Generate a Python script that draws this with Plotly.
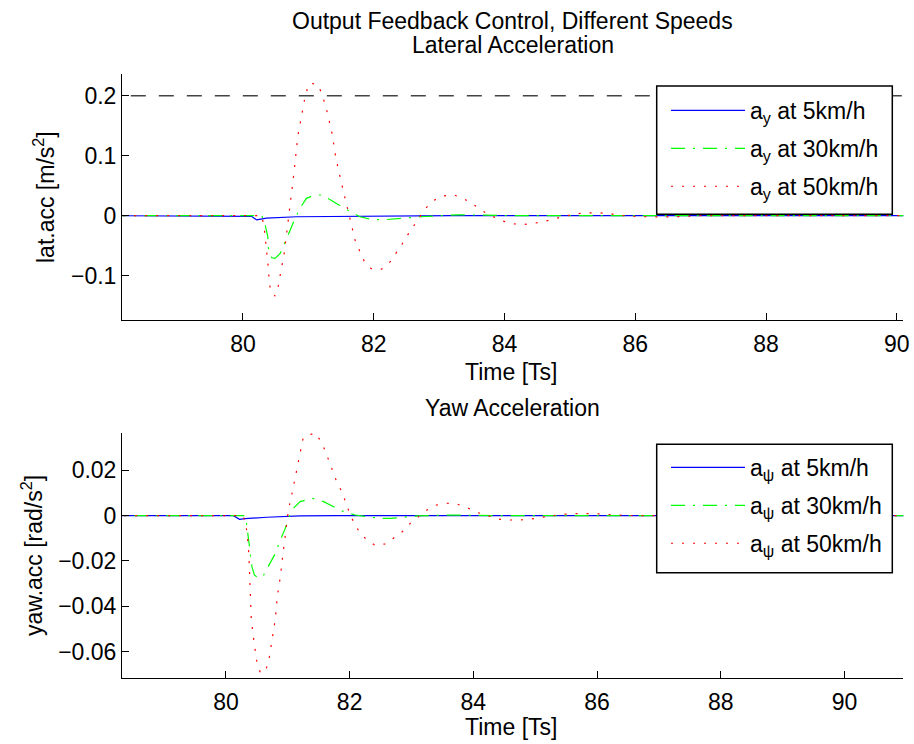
import plotly.graph_objects as go

# ---------------- data: lateral acceleration (top) ----------------
t_lat_5 = [78.0, 80.10, 80.13, 80.21, 80.36, 80.82, 81.5, 82.5, 83.2, 91.0]
lat_5 = [0.0, 0.0, -0.001, -0.007, -0.004, -0.0017, -0.001, -0.0005, 0.0, 0.0]

t_lat_30 = [78.0, 80.29, 80.34, 80.38, 80.39, 80.44, 80.49, 80.57, 80.64, 80.72, 80.80,
            80.87, 80.97, 81.10, 81.20, 81.30, 81.46, 81.64, 81.79, 81.94, 82.12, 82.35,
            82.55, 82.71, 83.0, 83.3, 83.7, 84.2, 91.0]
lat_30 = [0.0, 0.0, -0.0155, -0.035, -0.054, -0.070, -0.071, -0.063, -0.045, -0.024, -0.004,
          0.012, 0.029, 0.0345, 0.0345, 0.029, 0.018, 0.0067, -0.0017, -0.0055, -0.007, -0.0055,
          -0.0033, -0.0017, 0.0, 0.0015, 0.001, 0.0, 0.0]

t_lat_50 = [78.0, 80.29, 80.33, 80.36, 80.38, 80.39, 80.40, 80.42, 80.49, 80.54, 80.57, 80.60,
            80.63, 80.67, 80.70, 80.73, 80.77, 80.81, 80.84, 80.90, 80.96, 81.02, 81.14, 81.21,
            81.25, 81.30, 81.37, 81.42, 81.49, 81.57, 81.64, 81.72, 81.79, 81.86, 81.97, 82.12,
            82.25, 82.34, 82.43, 82.52, 82.61, 82.71, 82.79, 82.91, 83.05, 83.23, 83.37, 83.52,
            83.68, 83.80, 83.95, 84.11, 84.26, 84.43, 84.59, 84.75, 84.90, 85.08, 85.25, 85.41,
            85.58, 85.74, 85.89, 86.23, 86.56, 87.0, 91.0]
lat_50 = [0.0, 0.0, -0.025, -0.052, -0.071, -0.089, -0.107, -0.124, -0.134, -0.117, -0.099, -0.081,
          -0.063, -0.028, 0.004, 0.026, 0.062, 0.097, 0.133, 0.169, 0.204, 0.221, 0.219, 0.203,
          0.186, 0.168, 0.133, 0.097, 0.062, 0.026, -0.009, -0.043, -0.060, -0.077, -0.089, -0.089,
          -0.077, -0.063, -0.048, -0.032, -0.017, -0.002, 0.012, 0.025, 0.033, 0.0345, 0.029, 0.019,
          0.007, 0.0, -0.008, -0.013, -0.015, -0.013, -0.010, -0.0055, -0.0017, 0.003, 0.0045, 0.005,
          0.004, 0.001, -0.0005, -0.002, -0.002, 0.0, 0.0]

lat_limit = 0.2

# ---------------- data: yaw acceleration (bottom) ----------------
t_yaw_5 = [78.0, 80.12, 80.22, 80.31, 80.66, 81.2, 81.8, 91.0]
yaw_5 = [0.0, 0.0, -0.0016, -0.0013, -0.0007, -0.0001, 0.0, 0.0]

t_yaw_30 = [78.0, 80.30, 80.32, 80.37, 80.39, 80.42, 80.46, 80.53, 80.61, 80.72, 80.80, 80.88,
            80.96, 81.01, 81.09, 81.20, 81.39, 81.58, 81.74, 81.90, 82.09, 82.28, 82.49, 82.66,
            82.87, 83.09, 83.7, 84.3, 91.0]
yaw_30 = [0.0, 0.0, -0.0004, -0.0122, -0.0174, -0.0225, -0.0262, -0.0277, -0.0262, -0.021, -0.0166,
          -0.0107, -0.0056, -0.0012, 0.0033, 0.0062, 0.0077, 0.0062, 0.004, 0.0018, 0.0003, -0.0004,
          -0.0012, -0.0012, -0.0007, -0.0001, 0.0003, 0.0, 0.0]

t_yaw_50 = [78.0, 80.28, 80.31, 80.34, 80.37, 80.39, 80.41, 80.45, 80.50, 80.555, 80.635, 80.69,
            80.72, 80.74, 80.77, 80.80, 80.83, 80.88, 80.92, 80.96, 81.01, 81.08, 81.15, 81.19,
            81.25, 81.44, 81.54, 81.61, 81.67, 81.74, 81.79, 81.875, 81.93, 81.99, 82.06, 82.17,
            82.27, 82.40, 82.58, 82.71, 82.85, 82.98, 83.11, 83.25, 83.40, 83.57, 83.73, 83.92,
            84.08, 84.25, 84.41, 84.57, 84.76, 84.92, 85.08, 85.27, 85.43, 85.62, 85.78, 85.97,
            86.13, 86.32, 86.6, 91.0]
yaw_50 = [0.0, 0.0, -0.0029, -0.0071, -0.0166, -0.0362, -0.046, -0.0549, -0.0645, -0.0693, -0.0689,
          -0.0645, -0.0593, -0.0549, -0.0505, -0.0453, -0.0357, -0.0269, -0.0174, -0.0078, 0.0025,
          0.0113, 0.0209, 0.0253, 0.0346, 0.0366, 0.0327, 0.0283, 0.0238, 0.0194, 0.015, 0.0106,
          0.0062, 0.0018, -0.0026, -0.0078, -0.0104, -0.0129, -0.0125, -0.010, -0.0071, -0.0034,
          -0.0004, 0.0025, 0.0047, 0.0055, 0.0052, 0.0033, 0.0013, -0.0001, -0.0015, -0.0019,
          -0.0019, -0.0015, -0.0009, -0.0001, 0.0006, 0.0009, 0.001, 0.0009, 0.0006, 0.0003, 0.0, 0.0]

speeds = ["5km/h", "30km/h", "50km/h"]
lat_x_ticks = [80, 82, 84, 86, 88, 90]
lat_y_ticks = [0.2, 0.1, 0, -0.1]
yaw_y_ticks = [0.02, 0, -0.02, -0.04, -0.06]

# ---------------- styling ----------------
W, H = 914, 744
FONT = "Liberation Sans, Arial, Helvetica, sans-serif"
FS = 23
styles = [
    dict(color="#0000FF", width=1.2, dash="solid"),
    dict(color="#00FF00", width=1.2, dash="14px,8px,2px,8px"),
    dict(color="#FF0000", width=1.2, dash="2px,9px"),
]


def px_x(p):
    return p / W


def px_y(p):
    return 1 - p / H


fig = go.Figure()

lat_series = [(t_lat_5, lat_5), (t_lat_30, lat_30), (t_lat_50, lat_50)]
yaw_series = [(t_yaw_5, yaw_5), (t_yaw_30, yaw_30), (t_yaw_50, yaw_50)]

for i, ((tx, ty), sp, st) in enumerate(zip(lat_series, speeds, styles)):
    fig.add_trace(go.Scatter(x=tx, y=ty, mode="lines", line=st,
                             name=f"a<sub>y</sub> at {sp}", xaxis="x", yaxis="y",
                             legend="legend", legendgroup=f"lat{i}"))
fig.add_trace(go.Scatter(x=[77.0, 92.0], y=[lat_limit, lat_limit], mode="lines",
                         line=dict(color="#444444", width=1.5, dash="15px,13px"),
                         showlegend=False, xaxis="x", yaxis="y"))

for i, ((tx, ty), sp, st) in enumerate(zip(yaw_series, speeds, styles)):
    fig.add_trace(go.Scatter(x=tx, y=ty, mode="lines", line=st,
                             name=f"a<sub>ψ</sub> at {sp}", xaxis="x2", yaxis="y2",
                             legend="legend2", legendgroup=f"yaw{i}"))

axis_common = dict(showline=True, linecolor="black", linewidth=1, ticks="inside",
                   ticklen=7, tickcolor="black", tickwidth=1, showgrid=False, zeroline=False,
                   mirror=False, tickfont=dict(family=FONT, size=FS, color="black"),
                   automargin=False)

legend_common = dict(bgcolor="rgba(0,0,0,0)", borderwidth=0,
                     font=dict(family=FONT, size=FS, color="black"),
                     xanchor="left", yanchor="top", itemwidth=74, tracegroupgap=5,
                     traceorder="grouped")

fig.update_layout(
    width=W, height=H,
    margin=dict(l=0, r=0, t=0, b=0),
    paper_bgcolor="white", plot_bgcolor="white",
    font=dict(family=FONT, size=FS, color="black"),
    xaxis=dict(domain=[px_x(122), px_x(903.3)], range=[78.15, 90.1],
               tickvals=lat_x_ticks, anchor="y", ticklabelstandoff=3, **axis_common),
    yaxis=dict(domain=[px_y(320), px_y(74.3)], range=[-0.1738, 0.2357],
               tickvals=lat_y_ticks, anchor="x", **axis_common),
    xaxis2=dict(domain=[px_x(122), px_x(903.3)], range=[78.32, 90.95],
                tickvals=lat_x_ticks, anchor="y2", ticklabelstandoff=3, **axis_common),
    yaxis2=dict(domain=[px_y(678.3), px_y(432.7)], range=[-0.0718, 0.03664],
                tickvals=yaw_y_ticks, anchor="x2", **axis_common),
    legend=dict(x=px_x(666), y=px_y(89), **legend_common),
    legend2=dict(x=px_x(666), y=px_y(446), **legend_common),
    showlegend=True,
)

# legend boxes (white, black border) drawn above the data
for y0, y1 in [(86, 214.3), (444.3, 572.7)]:
    fig.add_shape(type="rect", xref="paper", yref="paper", layer="above",
                  x0=px_x(656.7), x1=px_x(892.3), y0=px_y(y1), y1=px_y(y0),
                  fillcolor="white", line=dict(color="black", width=1.5))

title_font = dict(family=FONT, size=FS, color="black")
annotations = [
    dict(text="Output Feedback Control, Different Speeds", x=px_x(512.5), y=px_y(21)),
    dict(text="Lateral Acceleration", x=px_x(512.5), y=px_y(45)),
    dict(text="Yaw Acceleration", x=px_x(512.5), y=px_y(408)),
    dict(text="Time [Ts]", x=px_x(511), y=px_y(372)),
    dict(text="Time [Ts]", x=px_x(511), y=px_y(727)),
    dict(text="lat.acc [m/s<sup>2</sup>]", x=px_x(44), y=px_y(197), textangle=-90),
    dict(text="yaw.acc [rad/s<sup>2</sup>]", x=px_x(32), y=px_y(556), textangle=-90),
]
for a in annotations:
    fig.add_annotation(xref="paper", yref="paper", showarrow=False,
                       xanchor="center", yanchor="middle", font=title_font, **a)

fig.write_html("out.html")
